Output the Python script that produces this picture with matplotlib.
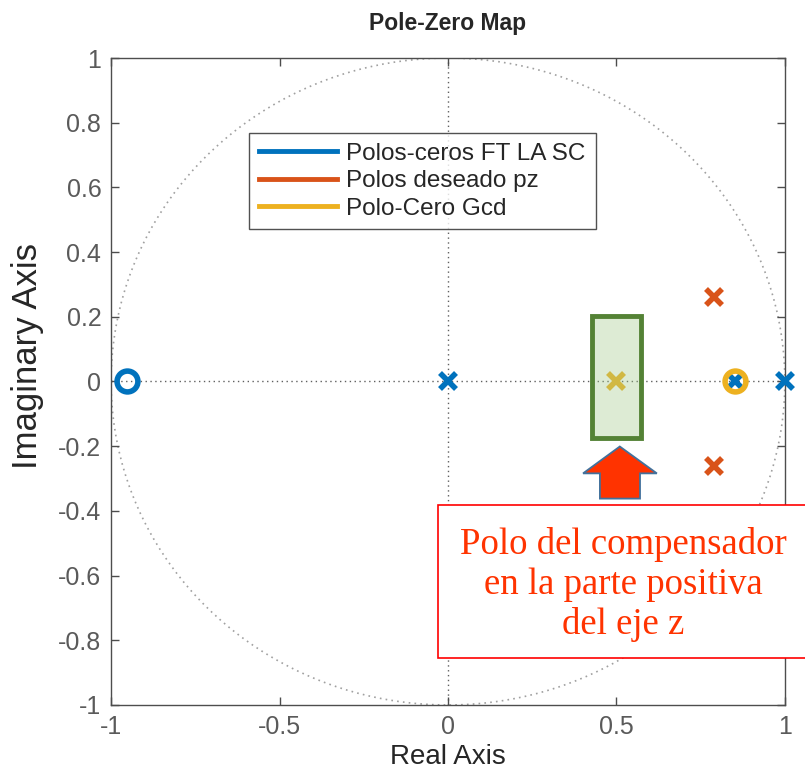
import numpy as np
import matplotlib
matplotlib.use("Agg")
import matplotlib.pyplot as plt
from matplotlib.patches import Rectangle, Polygon
from matplotlib.lines import Line2D

plt.rcParams['font.family'] = ['Liberation Sans', 'DejaVu Sans']
plt.rcParams['axes.unicode_minus'] = False
plt.rcParams['hatch.color'] = '#d8e8cf'

# Data
plant_zeros_re = [-0.953]
plant_zeros_im = [0.0]
plant_poles_re = [0.0, 0.852, 1.0]
plant_poles_im = [0.0, 0.0, 0.0]
desired_poles_re = [0.789, 0.789]
desired_poles_im = [0.26, -0.26]
gcd_pole_re = [0.5]
gcd_pole_im = [0.0]
gcd_zero_re = [0.852]
gcd_zero_im = [0.0]
legend_labels = ['Polos-ceros FT LA SC', 'Polos deseado pz', 'Polo-Cero Gcd']
ticks = [-1, -0.8, -0.6, -0.4, -0.2, 0, 0.2, 0.4, 0.6, 0.8, 1]
xticks = [-1, -0.5, 0, 0.5, 1]

BLUE = '#0072BD'
ORANGE = '#D95319'
YELLOW = '#EDB120'

fig = plt.figure(figsize=(8.05, 7.84), dpi=100)
ax = fig.add_axes([0.138, 0.1008, 0.837, 0.8252])
ax.set_xlim(-1, 1)
ax.set_ylim(-1, 1)

# unit circle and axes lines
th = np.linspace(0, 2 * np.pi, 400)
ax.plot(np.cos(th), np.sin(th), linestyle=(0, (1, 2.5)), color='#a0a0a0', lw=1.2, zorder=1)
ax.axhline(0, linestyle=(0, (1, 2.5)), color='#606060', lw=1.0, zorder=1)
ax.axvline(0, linestyle=(0, (1, 2.5)), color='#606060', lw=1.0, zorder=1)

ms_x = 12
mw = 4
ax.plot(plant_zeros_re, plant_zeros_im, 'o', ms=15, mfc='none', mec=BLUE, mew=mw, zorder=3, clip_on=False)
ax.plot(plant_poles_re, plant_poles_im, 'x', ms=ms_x, mec=BLUE, mew=mw, zorder=3, clip_on=False)
ax.plot(gcd_zero_re, gcd_zero_im, 'o', ms=15, mfc='none', mec=YELLOW, mew=mw, zorder=4, clip_on=False)
ax.plot(desired_poles_re, desired_poles_im, 'x', ms=ms_x, mec=ORANGE, mew=mw, zorder=3)
ax.plot(gcd_pole_re, gcd_pole_im, 'x', ms=ms_x, mec=YELLOW, mew=mw, zorder=3)

# green highlight rectangle
ax.add_patch(Rectangle((0.427, -0.176), 0.146, 0.38, facecolor=(0.62, 0.78, 0.52, 0.35),
                       edgecolor='none', hatch='++', zorder=5))
ax.add_patch(Rectangle((0.427, -0.176), 0.146, 0.38, facecolor='none',
                       edgecolor='#548235', lw=3.5, zorder=6))

# red arrow
arrow_pts = [(0.510, -0.201), (0.620, -0.284), (0.570, -0.284), (0.570, -0.362),
             (0.451, -0.362), (0.451, -0.284), (0.401, -0.284)]
ax.add_patch(Polygon(arrow_pts, closed=True, facecolor='#FF3300', edgecolor='#41719C',
                     lw=1.3, zorder=6, clip_on=False))

ax.set_xticks(xticks)
ax.set_yticks(ticks)
ax.set_xticklabels([f'{t:g}' for t in xticks])
ax.set_yticklabels([f'{t:g}' for t in ticks])
ax.tick_params(direction='in', top=True, right=True, labelsize=18, colors='#4d4d4d',
               length=6, width=1, pad=7)
for t in ax.get_xticklabels() + ax.get_yticklabels():
    t.set_color('#5a5a5a')
for s in ax.spines.values():
    s.set_color('#4d4d4d')
    s.set_linewidth(1.0)

ax.set_xlabel('Real Axis', fontsize=20, color='#262626', labelpad=4)
ax.set_ylabel('Imaginary Axis', fontsize=25, color='#262626')
ax.yaxis.set_label_coords(-0.099, 0.539)
ax.set_title('Pole-Zero Map', fontsize=16.5, fontweight='bold', color='#262626', pad=20)

handles = [Line2D([], [], color=c, lw=3.5) for c in (BLUE, ORANGE, YELLOW)]
leg = ax.legend(handles, legend_labels, loc='upper left', bbox_to_anchor=(0.205, 0.884),
                fontsize=17.5, frameon=True, fancybox=False, edgecolor='#262626',
                handlelength=3.2, handletextpad=0.4, borderpad=0.4, labelspacing=0.22,
                borderaxespad=0)
leg.get_frame().set_linewidth(1.0)
for t in leg.get_texts():
    t.set_color('#262626')

# annotation box
fig.patches.append(Rectangle((0.544, 0.161), 0.47, 0.195, transform=fig.transFigure,
                             facecolor='white', edgecolor='#FF0000', lw=1.2, zorder=10))
fig.text(0.774, 0.254, 'Polo del compensador\nen la parte positiva\ndel eje z',
         ha='center', va='center', fontsize=26.5, color='#FF3300',
         family=['Liberation Serif', 'DejaVu Serif'], linespacing=1.2, zorder=11)

fig.savefig('out.png', dpi=100)
